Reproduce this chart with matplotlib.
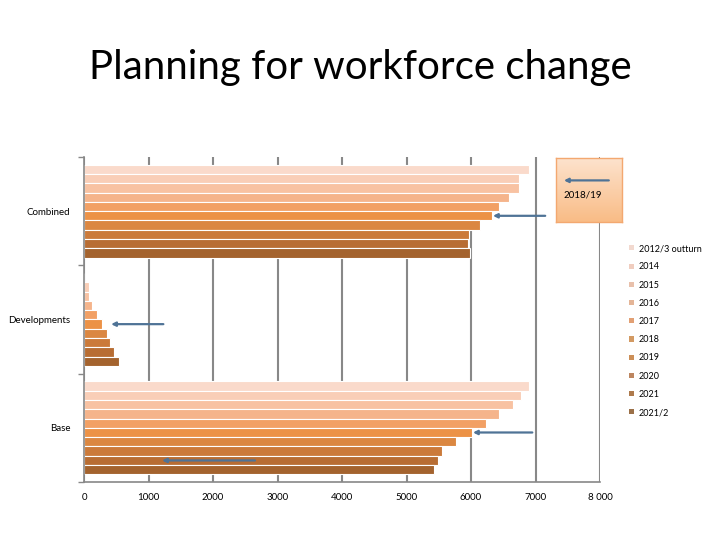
import numpy as np
import matplotlib.pyplot as plt
from matplotlib.patches import Patch

plt.rcParams['font.family'] = ['Lato', 'DejaVu Sans']

groups = ['Base', 'Developments', 'Combined']
years = ['2012/3 outturn', '2014', '2015', '2016', '2017',
         '2018', '2019', '2020', '2021', '2021/2']

base = [6900, 6775, 6650, 6430, 6235, 6015, 5765, 5550, 5490, 5425]
developments = [0, 70, 75, 130, 200, 285, 355, 405, 465, 535]
combined = [6900, 6745, 6745, 6590, 6430, 6325, 6140, 5970, 5955, 5985]

colors = ['#FADACB', '#F9CEB7', '#F8C2A2', '#F5B48B', '#F2A064',
          '#EC9246', '#DB8741', '#CB7A3A', '#B86D33', '#A4632E']
legend_colors = ['#F2D9CF', '#F0CDBF', '#E8C0AB', '#E4B597', '#E2A074',
                 '#D39A63', '#CC8F58', '#BD8660', '#AE7A4C', '#9B7048']

values = [base, developments, combined]

fig = plt.figure(figsize=(7.2, 5.4), dpi=100)
ax = fig.add_axes([0.1167, 0.1074, 0.7167, 0.6019])

bh = 0.086
for g, vals in enumerate(values):
    for i, v in enumerate(vals):
        yc = g + 0.43 - bh * (i + 0.5)
        ax.barh(yc, v, height=bh, color=colors[i], edgecolor='white',
                linewidth=0.8, zorder=2)

ax.set_xlim(0, 8000)
ax.set_ylim(-0.5, 2.5)
ax.set_xticks(range(0, 8001, 1000))
ax.set_xticklabels(['0', '1000', '2000', '3000', '4000', '5000',
                    '6000', '7000', '8 000'], fontsize=7)
ax.set_yticks([0, 1, 2])
ax.set_yticklabels(groups, fontsize=7)
ax.set_yticks([-0.5, 0.5, 1.5, 2.5], minor=True)
ax.tick_params(axis='y', which='major', length=0, pad=10)
ax.tick_params(axis='y', which='minor', length=4, color='#888888', width=1)
ax.tick_params(axis='x', length=0, pad=8)
ax.grid(axis='x', color='#888888', linewidth=1.5, zorder=0)
ax.set_axisbelow(True)
for s in ['top', 'right']:
    ax.spines[s].set_visible(False)
for s in ['left', 'bottom']:
    ax.spines[s].set_color('#888888')
    ax.spines[s].set_linewidth(1.2)

def ypos(g, i):
    return g + 0.43 - bh * (i + 0.5)

arrow = dict(arrowstyle='-|>', color='#4F7396', lw=1.6,
             mutation_scale=6, shrinkA=0, shrinkB=0)
ax.annotate('', xy=(6340, ypos(2, 5)), xytext=(7150, ypos(2, 5)),
            arrowprops=arrow, annotation_clip=False, zorder=5)
ax.annotate('', xy=(420, ypos(1, 5)), xytext=(1230, ypos(1, 5)),
            arrowprops=arrow, zorder=5)
ax.annotate('', xy=(6030, ypos(0, 5)), xytext=(6950, ypos(0, 5)),
            arrowprops=arrow, zorder=5)
ax.annotate('', xy=(1210, ypos(0, 8)), xytext=(2650, ypos(0, 8)),
            arrowprops=arrow, zorder=5)

# callout box
bx = fig.add_axes([556 / 720, 1 - 222 / 540, 66 / 720, 64 / 540])
grad = np.linspace(0, 1, 100).reshape(-1, 1)
bx.imshow(grad, aspect='auto', extent=[0, 1, 0, 1],
          cmap=plt.matplotlib.colors.LinearSegmentedColormap.from_list(
              'box', ['#FDE3CE', '#F9BC86']), origin='upper')
bx.set_xticks([])
bx.set_yticks([])
for s in bx.spines.values():
    s.set_color('#F3A870')
    s.set_linewidth(1)
bx.annotate('', xy=(0.12, 0.65), xytext=(0.8, 0.65), arrowprops=arrow)
bx.text(0.12, 0.42, '2018/19', fontsize=7, va='center', ha='left')

handles = [Patch(facecolor=c, edgecolor='none') for c in legend_colors]
fig.legend(handles, years, loc='upper left',
           bbox_to_anchor=(621 / 720, 1 - 236 / 540), frameon=False,
           fontsize=6.5, handlelength=0.5, handleheight=0.5,
           labelspacing=1.02, handletextpad=0.6)

fig.text(0.5, 1 - 68 / 540, 'Planning for workforce change',
         ha='center', va='center', fontsize=29)

fig.savefig('out.png', dpi=100)
